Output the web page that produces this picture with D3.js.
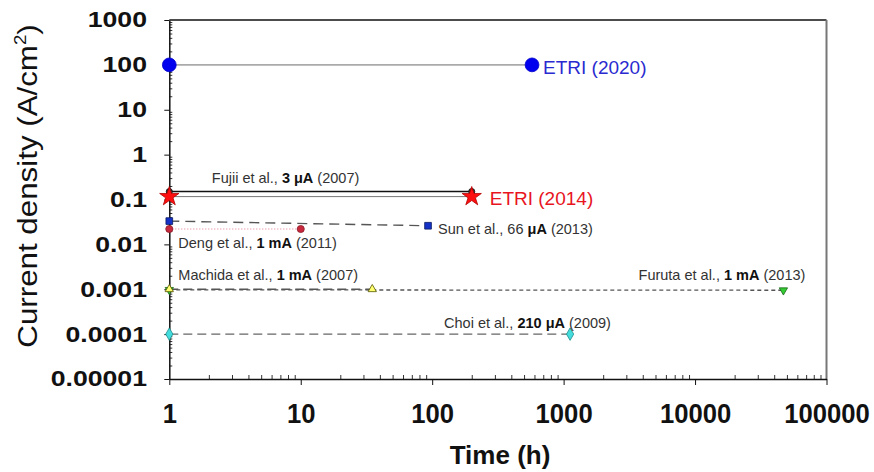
<!DOCTYPE html>
<html>
<head>
<meta charset="utf-8">
<script src="https://cdn.jsdelivr.net/npm/d3@7"></script>
<style>
  html, body { margin: 0; padding: 0; background: #fff; }
  svg { display: block; font-family: "Liberation Sans", Arial, sans-serif; }
</style>
</head>
<body>
<svg id="chart" width="874" height="472"></svg>
<script>
// data
const studies      = ["ETRI (2020)", "ETRI (2014)", "Fujii", "Sun", "Deng", "Machida", "Furuta", "Choi"];
const startTime    = [1, 1, 1, 1, 1, 1, 1, 1];
const endTime      = [575, 200, 200, 93, 10, 35, 47000, 1120];
const startDensity = [100, 0.116, 0.15, 0.033, 0.022, 0.001, 0.00097, 0.0001];
const endDensity   = [100, 0.116, 0.15, 0.026, 0.022, 0.001, 0.00095, 0.0001];

const labelLead = ["", "", "Fujii et al., ", "Sun et al., 66 ", "Deng et al., ", "Machida et al., ", "Furuta et al., ", "Choi et al., "];
const labelBold = ["", "", "3 \u03bcA", "\u03bcA", "1 mA", "1 mA", "1 mA", "210 \u03bcA"];
const labelTail = ["ETRI (2020)", "ETRI (2014)", " (2007)", " (2013)", " (2011)", " (2007)", " (2013)", " (2009)"];

const yTicks = [1e-5, 1e-4, 1e-3, 1e-2, 1e-1, 1, 10, 100, 1000];
const yTickLabels = ["0.00001", "0.0001", "0.001", "0.01", "0.1", "1", "10", "100", "1000"];
const xTicks = [1, 10, 100, 1000, 10000, 100000];
const xTickLabels = ["1", "10", "100", "1000", "10000", "100000"];

// look of each study (same order as studies)
const looks = [
  { line: "#aaaaaa", lw: 1.6, dash: null,  sym: d3.symbolCircle,   size: 150, fill: "#0000ee", edge: "#0000cc", rot: 0,
    lab: { at: "end",   dx: 11,   dy: 9.5, size: 19,   color: "#2a2ad0", anchor: "start" } },
  { line: "#777777", lw: 1,   dash: null,  sym: d3.symbolStar,     size: 115, fill: "#ff1010", edge: "#b00000", rot: 0,
    lab: { at: "end",   dx: 18,   dy: 8.5, size: 19,   color: "#e8141e", anchor: "start" } },
  { line: "#111111", lw: 1.5, dash: null,  sym: d3.symbolCircle,   size: 30,  fill: "#333333", edge: "#111111", rot: 0,
    lab: { at: "start", dx: 42.5, dy: -8.5, size: 14.5, color: "#333", anchor: "start" } },
  { line: "#555555", lw: 1.4, dash: "10,6", sym: d3.symbolSquare,  size: 45,  fill: "#1432c8", edge: "#0a1a60", rot: 0,
    lab: { at: "end",   dx: 10,   dy: 8.5, size: 14.5, color: "#333", anchor: "start" } },
  { line: "#e07a8a", lw: 1.2, dash: "1,2", sym: d3.symbolCircle,   size: 40,  fill: "#c8283c", edge: "#8a1a28", rot: 0,
    lab: { at: "start", dx: 9,    dy: 19,  size: 14.5, color: "#333", anchor: "start" } },
  { line: "#555555", lw: 1.4, dash: "9,5", sym: d3.symbolTriangle, size: 30,  fill: "#ffff70", edge: "#555500", rot: 0,
    lab: { at: "start", dx: 9,    dy: -9,  size: 14.5, color: "#333", anchor: "start" } },
  { line: "#555555", lw: 1.3, dash: "4,3", sym: d3.symbolTriangle, size: 30,  fill: "#33cc33", edge: "#1a661a", rot: 180,
    lab: { at: "end",   dx: 22,   dy: -10, size: 14.5, color: "#333", anchor: "end" } },
  { line: "#666666", lw: 1.4, dash: "9,5", sym: d3.symbolDiamond,  size: 45,  fill: "#44dddd", edge: "#1a8a8a", rot: 0,
    lab: { at: "end",   dx: -126, dy: -6,  size: 14.5, color: "#333", anchor: "start" } }
];

const svg = d3.select("#chart");
const plot = { left: 169.3, right: 826.5, top: 20, bottom: 379 };

const x = d3.scaleLog().domain([1, 1e5]).range([plot.left, plot.right]);
const y = d3.scaleLog().domain([1e-5, 1e3]).range([plot.bottom, plot.top]);

function minorTicks(lo, hi) {
  const out = [];
  for (let e = lo; e < hi; e++) for (let m = 2; m <= 9; m++) out.push(m * Math.pow(10, e));
  return out;
}

// frame: top and right
svg.append("line").attr("x1", plot.left).attr("x2", plot.right).attr("y1", plot.top).attr("y2", plot.top)
  .attr("stroke", "#111").attr("stroke-width", 1.5);
svg.append("line").attr("x1", plot.right).attr("x2", plot.right).attr("y1", plot.top).attr("y2", plot.bottom)
  .attr("stroke", "#777").attr("stroke-width", 2);

// y minor ticks (inside)
svg.append("g").attr("transform", `translate(${plot.left},0)`)
  .call(d3.axisLeft(y).tickValues(minorTicks(-5, 3)).tickSize(-3).tickSizeOuter(0).tickFormat(""))
  .call(g => g.select(".domain").remove())
  .call(g => g.selectAll("line").attr("stroke", "#333"));

// x minor ticks (inside)
svg.append("g").attr("transform", `translate(0,${plot.bottom})`)
  .call(d3.axisBottom(x).tickValues(minorTicks(0, 5)).tickSize(-4).tickSizeOuter(0).tickFormat(""))
  .call(g => g.select(".domain").remove())
  .call(g => g.selectAll("line").attr("stroke", "#333"));

// y axis
svg.append("g").attr("transform", `translate(${plot.left},0)`)
  .call(d3.axisLeft(y).tickValues(yTicks).tickSize(5).tickSizeOuter(0).tickPadding(13)
    .tickFormat((d, i) => yTickLabels[i]))
  .call(g => g.select(".domain").attr("stroke", "#111").attr("stroke-width", 1.5))
  .call(g => g.selectAll("line").attr("stroke", "#111"))
  .call(g => g.selectAll("text")
    .attr("font-family", "'Liberation Sans', Arial, sans-serif")
    .attr("font-size", 21.5).attr("font-weight", "bold").attr("fill", "#111")
    .attr("transform", "scale(1.24,1)"));

// x axis
svg.append("g").attr("transform", `translate(0,${plot.bottom})`)
  .call(d3.axisBottom(x).tickValues(xTicks).tickSize(6).tickSizeOuter(0)
    .tickFormat((d, i) => xTickLabels[i]))
  .call(g => g.select(".domain").attr("stroke", "#111").attr("stroke-width", 1.5))
  .call(g => g.selectAll("line").attr("stroke", "#111"))
  .call(g => g.selectAll("text")
    .attr("font-family", "'Liberation Sans', Arial, sans-serif")
    .attr("font-size", 27).attr("font-weight", "bold").attr("fill", "#111")
    .attr("y", 44).attr("dy", 0)
    .attr("transform", "scale(0.95,1)"));

// axis titles
svg.append("text")
  .attr("transform", "translate(500,464)")
  .attr("text-anchor", "middle")
  .attr("font-size", 26).attr("font-weight", "bold").attr("fill", "#111")
  .text("Time (h)");

const yTitle = svg.append("text")
  .attr("transform", "translate(37,186) rotate(-90) scale(1.16,1)")
  .attr("text-anchor", "middle")
  .attr("font-size", 27).attr("fill", "#111");
yTitle.append("tspan").text("Current density (A/cm");
yTitle.append("tspan").attr("dy", -11).attr("font-size", 16).text("2");
yTitle.append("tspan").attr("dy", 11).text(")");

// series
const idx = d3.range(studies.length);
const line = d3.line().x(d => x(d[0])).y(d => y(d[1]));
const pts = i => [[startTime[i], startDensity[i]], [endTime[i], endDensity[i]]];

// draw lines back to front so Machida sits above Furuta
const lineOrder = [6, 7, 5, 4, 3, 2, 1, 0];
svg.append("g").selectAll("path")
  .data(lineOrder)
  .join("path")
  .attr("d", i => line(pts(i)))
  .attr("fill", "none")
  .attr("stroke", i => looks[i].line)
  .attr("stroke-width", i => looks[i].lw)
  .attr("stroke-dasharray", i => looks[i].dash);

const markerOrder = [6, 5, 7, 4, 3, 2, 0, 1];
const markers = svg.append("g");
markerOrder.forEach(i => {
  markers.selectAll(null)
    .data(pts(i))
    .join("path")
    .attr("transform", d => `translate(${x(d[0])},${y(d[1])}) rotate(${looks[i].rot})`)
    .attr("d", d3.symbol().type(looks[i].sym).size(looks[i].size))
    .attr("fill", looks[i].fill)
    .attr("stroke", looks[i].edge)
    .attr("stroke-width", 0.8);
});

// labels
const labels = svg.append("g");
idx.forEach(i => {
  const L = looks[i].lab;
  const t = L.at === "end" ? endTime[i] : startTime[i];
  const v = L.at === "end" ? endDensity[i] : startDensity[i];
  const txt = labels.append("text")
    .attr("x", x(t) + L.dx)
    .attr("y", y(v) + L.dy)
    .attr("text-anchor", L.anchor)
    .attr("font-size", L.size)
    .attr("fill", L.color);
  if (labelLead[i]) txt.append("tspan").text(labelLead[i]);
  if (labelBold[i]) txt.append("tspan").attr("font-weight", "bold").attr("fill", "#111").text(labelBold[i]);
  txt.append("tspan").text(labelTail[i]);
});
</script>
</body>
</html>
